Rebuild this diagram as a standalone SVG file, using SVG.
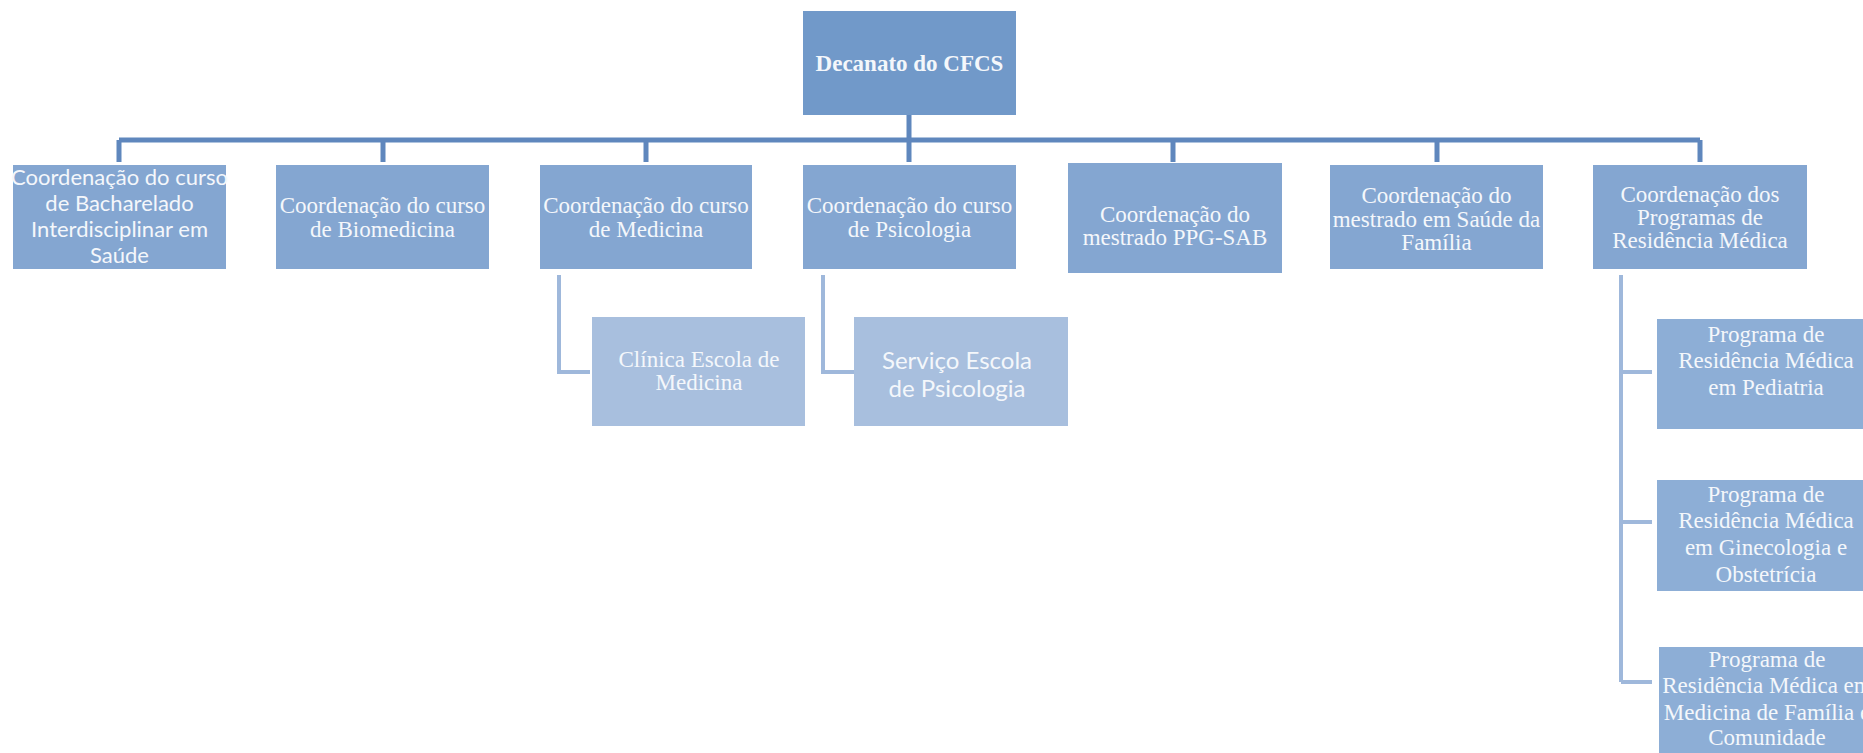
<svg xmlns="http://www.w3.org/2000/svg" width="1863" height="753" viewBox="0 0 1863 753">
<style>
.top{fill:#7199c9;}
.l2{fill:#84a6d1;}
.l3{fill:#a8bfde;}
.l4{fill:#8daed6;}
text{fill:#f4f7fb;text-anchor:middle;}
.serif{font-family:"Liberation Serif","Times New Roman",serif;font-size:23px;}
.sans{font-family:Lato,"Liberation Sans",sans-serif;font-size:22px;}
.sans24{font-family:Lato,"Liberation Sans",sans-serif;font-size:24px;}
.main{stroke:#5f87bd;stroke-width:5;fill:none;}
.sub{stroke:#9fb8db;stroke-width:4;fill:none;}
</style>
<rect width="1863" height="753" fill="#ffffff"/>
<g id="connectors">
<path class="main" d="M909 115V162M119 140H1700M119 140V162M383 140V162M646 140V162M1173 140V162M1437 140V162M1700 140V162"/>
<path class="sub" d="M559 275V372H590M823 275V372H854M1621 275V682M1621 372H1652M1621 522H1652M1621 682H1652"/>
</g>
<g id="decanato">
<rect class="top" x="803" y="11" width="213" height="104"/>
<text class="serif" x="909.5" y="71" font-weight="bold">Decanato do CFCS</text>
</g>
<g id="bacharelado">
<rect class="l2" x="13" y="165" width="213" height="104"/>
<text class="sans" x="119.5" y="185">Coordenação do curso</text>
<text class="sans" x="119.5" y="211">de Bacharelado</text>
<text class="sans" x="119.5" y="237">Interdisciplinar em</text>
<text class="sans" x="119.5" y="263">Saúde</text>
</g>
<g id="biomedicina">
<rect class="l2" x="276" y="165" width="213" height="104"/>
<text class="serif" x="382.5" y="213">Coordenação do curso</text>
<text class="serif" x="382.5" y="237">de Biomedicina</text>
</g>
<g id="medicina">
<rect class="l2" x="540" y="165" width="212" height="104"/>
<text class="serif" x="646" y="213">Coordenação do curso</text>
<text class="serif" x="646" y="237">de Medicina</text>
</g>
<g id="psicologia">
<rect class="l2" x="803" y="165" width="213" height="104"/>
<text class="serif" x="909.5" y="213">Coordenação do curso</text>
<text class="serif" x="909.5" y="237">de Psicologia</text>
</g>
<g id="ppg-sab">
<rect class="l2" x="1068" y="163" width="214" height="110"/>
<text class="serif" x="1175" y="222">Coordenação do</text>
<text class="serif" x="1175" y="245">mestrado PPG-SAB</text>
</g>
<g id="saude-familia">
<rect class="l2" x="1330" y="165" width="213" height="104"/>
<text class="serif" x="1436.5" y="203">Coordenação do</text>
<text class="serif" x="1436.5" y="227">mestrado em Saúde da</text>
<text class="serif" x="1436.5" y="250">Família</text>
</g>
<g id="residencia">
<rect class="l2" x="1593" y="165" width="214" height="104"/>
<text class="serif" x="1700" y="202">Coordenação dos</text>
<text class="serif" x="1700" y="225">Programas de</text>
<text class="serif" x="1700" y="248">Residência Médica</text>
</g>
<g id="clinica">
<rect class="l3" x="592" y="317" width="213" height="109"/>
<text class="serif" x="699" y="367">Clínica Escola de</text>
<text class="serif" x="699" y="390">Medicina</text>
</g>
<g id="servico">
<rect class="l3" x="854" y="317" width="214" height="109"/>
<text class="sans24" x="957" y="369">Serviço Escola</text>
<text class="sans24" x="957" y="397">de Psicologia</text>
</g>
<g id="pediatria">
<rect class="l4" x="1657" y="319" width="220" height="110"/>
<text class="serif" x="1766" y="342">Programa de</text>
<text class="serif" x="1766" y="368">Residência Médica</text>
<text class="serif" x="1766" y="395">em Pediatria</text>
</g>
<g id="ginecologia">
<rect class="l4" x="1657" y="480" width="220" height="111"/>
<text class="serif" x="1766" y="502">Programa de</text>
<text class="serif" x="1766" y="528">Residência Médica</text>
<text class="serif" x="1766" y="555">em Ginecologia e</text>
<text class="serif" x="1766" y="582">Obstetrícia</text>
</g>
<g id="familia-comunidade">
<rect class="l4" x="1659" y="647" width="220" height="110"/>
<text class="serif" x="1767" y="667">Programa de</text>
<text class="serif" x="1767" y="693">Residência Médica em</text>
<text class="serif" x="1767" y="720">Medicina de Família e</text>
<text class="serif" x="1767" y="745">Comunidade</text>
</g>
</svg>
